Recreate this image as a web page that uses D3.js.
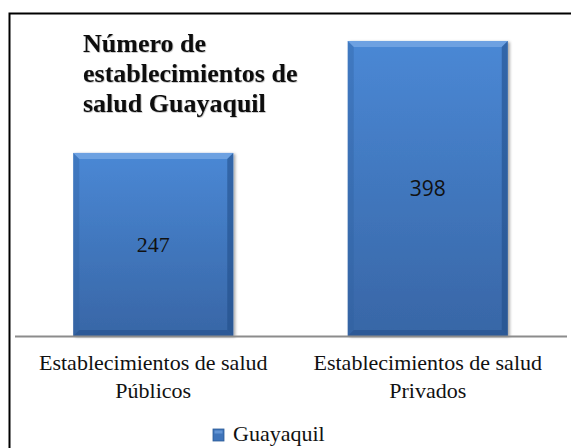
<!DOCTYPE html>
<html>
<head>
<meta charset="utf-8">
<script src="https://cdn.jsdelivr.net/npm/d3@7"></script>
<style>
  body { margin: 0; background: #fff; }
  svg { display: block; }
  .serif { font-family: "Liberation Serif", "Tinos", "DejaVu Serif", "Times New Roman", Times, serif; }
  .sans { font-family: "Open Sans", "Liberation Sans", sans-serif; }
</style>
</head>
<body>
<div id="chart"></div>
<script>
var categories = ["Establecimientos de salud Públicos", "Establecimientos de salud Privados"];
var categoryLines = [["Establecimientos de salud", "Públicos"], ["Establecimientos de salud", "Privados"]];
var values = [247, 398];
var seriesName = "Guayaquil";
var titleLines = ["Número de", "establecimientos de", "salud Guayaquil"];
var yDomain = [0, 400];

var width = 571, height = 448;
var margin = {top: 39.5, right: 6, bottom: 112, left: 16};

var svg = d3.select("#chart").append("svg")
    .attr("width", width)
    .attr("height", height);

var defs = svg.append("defs");

var grad = defs.append("linearGradient")
    .attr("id", "barGrad")
    .attr("x1", 0).attr("y1", 0).attr("x2", 0).attr("y2", 1);
grad.append("stop").attr("offset", "0%").attr("stop-color", "#4a88d5");
grad.append("stop").attr("offset", "100%").attr("stop-color", "#3866a6");

var shadow = defs.append("filter").attr("id", "shadow")
    .attr("x", "-10%").attr("y", "-10%").attr("width", "130%").attr("height", "130%");
shadow.append("feDropShadow")
    .attr("dx", 2).attr("dy", 1).attr("stdDeviation", 1.5)
    .attr("flood-color", "#000").attr("flood-opacity", 0.35);

var textGlow = defs.append("filter").attr("id", "glow")
    .attr("x", "-5%").attr("y", "-10%").attr("width", "110%").attr("height", "130%");
textGlow.append("feDropShadow")
    .attr("dx", 0.6).attr("dy", 0.6).attr("stdDeviation", 0.6)
    .attr("flood-color", "#000").attr("flood-opacity", 0.35);

// outer frame (runs off the picture on the right and bottom)
svg.append("rect")
    .attr("x", 9.5).attr("y", 13.5)
    .attr("width", 620).attr("height", 500)
    .attr("fill", "none")
    .attr("stroke", "#000")
    .attr("stroke-width", 2);

// scales
var x = d3.scaleBand()
    .domain(categories)
    .range([margin.left, width - margin.right])
    .paddingInner(0.417)
    .paddingOuter(0.2085);

var y = d3.scaleLinear()
    .domain(yDomain)
    .range([height - margin.bottom, margin.top]);

// bars with bevel
var bars = svg.selectAll("g.bar")
    .data(values)
    .enter()
    .append("g")
    .attr("class", "bar")
    .attr("transform", function(d, i) { return "translate(" + x(categories[i]) + "," + y(d) + ")"; });

var bw = x.bandwidth();
var bev = 6;

bars.append("rect")
    .attr("width", bw)
    .attr("height", function(d) { return y(0) - y(d); })
    .attr("fill", "url(#barGrad)")
    .attr("filter", "url(#shadow)");

// top bevel
bars.append("path")
    .attr("d", "M0,0 L" + bw + ",0 L" + (bw - bev) + "," + bev + " L" + bev + "," + bev + " Z")
    .attr("fill", "#7aaae6")
    .attr("opacity", 0.75);
// left bevel
bars.append("path")
    .attr("d", function(d) {
      var h = y(0) - y(d);
      return "M0,0 L" + bev + "," + bev + " L" + bev + "," + (h - bev) + " L0," + h + " Z";
    })
    .attr("fill", "#2f5e9e")
    .attr("opacity", 0.35);
// right bevel
bars.append("path")
    .attr("d", function(d) {
      var h = y(0) - y(d);
      return "M" + bw + ",0 L" + (bw - bev) + "," + bev + " L" + (bw - bev) + "," + (h - bev) + " L" + bw + "," + h + " Z";
    })
    .attr("fill", "#1f4a85")
    .attr("opacity", 0.55);
// bottom bevel
bars.append("path")
    .attr("d", function(d) {
      var h = y(0) - y(d);
      return "M0," + h + " L" + bev + "," + (h - bev) + " L" + (bw - bev) + "," + (h - bev) + " L" + bw + "," + h + " Z";
    })
    .attr("fill", "#24508c")
    .attr("opacity", 0.6);

// value labels (first one serif, second one sans as in the source)
bars.append("text")
    .attr("class", function(d, i) { return i === 0 ? "serif" : "sans"; })
    .attr("x", bw / 2)
    .attr("y", function(d) { return (y(0) - y(d)) / 2 + 8; })
    .attr("text-anchor", "middle")
    .attr("font-size", function(d, i) { return i === 0 ? 22 : 21; })
    .attr("fill", "#111")
    .text(function(d) { return d; });

// baseline axis
svg.append("line")
    .attr("x1", margin.left - 1)
    .attr("x2", width - 4)
    .attr("y1", y(0) + 0.5)
    .attr("y2", y(0) + 0.5)
    .attr("stroke", "#8c8c8c")
    .attr("stroke-width", 2);

// category labels
var catText = svg.selectAll("text.cat")
    .data(categories)
    .enter()
    .append("text")
    .attr("class", "cat serif")
    .attr("text-anchor", "middle")
    .attr("x", function(d) { return x(d) + bw / 2; })
    .attr("y", y(0) + 34)
    .attr("font-size", 22)
    .attr("fill", "#111");

catText.selectAll("tspan")
    .data(function(d, i) { return categoryLines[i]; })
    .enter()
    .append("tspan")
    .attr("x", function() { return d3.select(this.parentNode).attr("x"); })
    .attr("dy", function(d, j) { return j === 0 ? 0 : 28; })
    .text(function(d) { return d; });

// title
svg.append("text")
    .attr("class", "serif")
    .attr("x", 83)
    .attr("y", 52)
    .attr("font-size", 26)
    .attr("font-weight", "bold")
    .attr("fill", "#111")
    .attr("filter", "url(#glow)")
    .selectAll("tspan")
    .data(titleLines)
    .enter()
    .append("tspan")
    .attr("x", 83)
    .attr("dy", function(d, i) { return i === 0 ? 0 : 30; })
    .text(function(d) { return d; });

// legend
var legend = svg.append("g").attr("transform", "translate(213,429)");
legend.append("rect")
    .attr("width", 11).attr("height", 12)
    .attr("fill", "#3f74ba")
    .attr("stroke", "#2c5a96")
    .attr("stroke-width", 0.8);
legend.append("rect")
    .attr("x", 1.5).attr("y", 1.5)
    .attr("width", 8).attr("height", 3)
    .attr("fill", "#7aaae6")
    .attr("opacity", 0.6);
legend.append("text")
    .attr("class", "serif")
    .attr("x", 20)
    .attr("y", 12)
    .attr("font-size", 22)
    .attr("fill", "#111")
    .text(seriesName);
</script>
</body>
</html>
